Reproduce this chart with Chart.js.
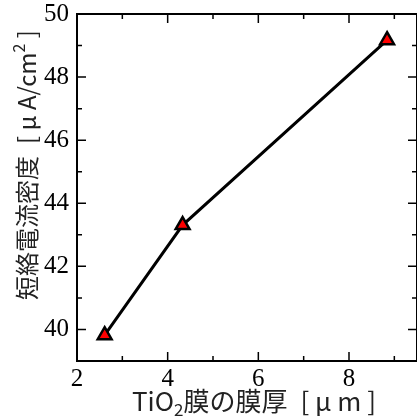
<!DOCTYPE html>
<html>
<head>
<meta charset="utf-8">
<script src="https://cdn.jsdelivr.net/npm/chart.js@4.4.0/dist/chart.umd.min.js"></script>
<style>
    html, body { margin: 0; padding: 0; overflow: hidden; background: #fff; }
    #chart { width: 417px; height: 416px; }
</style>
</head>
<body>
<canvas id="chart" width="417" height="416"></canvas>
<script>
const thickness = [2.61, 4.33, 8.84];
const currentDensity = [39.82, 43.31, 49.17];

const xTicks = [2, 4, 6, 8];
const xMinorTicks = [3, 5, 7, 9];
const yTicks = [40, 42, 44, 46, 48, 50];
const yMinorTicks = [41, 43, 45, 47, 49];

const xTitle = [{ text: 'TiO' }, { text: '2', sub: true }, { text: '膜の膜厚\u2002[ μ m ]' }];
const yTitle = [{ text: '短絡電流密度\u2002[ μ A/cm' }, { text: '2', sup: true }, { text: ' ]' }];

const titleFont = '"Noto Sans CJK JP", sans-serif';
const tickFont = { family: 'Liberation Serif', size: 25 };

function drawRich(ctx, parts, cx, cy, size) {
    const fontOf = p => `${(p.sub || p.sup) ? Math.round(size * 0.65) : size}px ${titleFont}`;
    const widths = parts.map(p => {
        ctx.font = fontOf(p);
        return ctx.measureText(p.text).width;
    });
    let x = cx - widths.reduce((a, b) => a + b, 0) / 2;
    parts.forEach((p, i) => {
        ctx.font = fontOf(p);
        let dy = 0;
        if (p.sub) dy = size * 0.32;
        if (p.sup) dy = -size * 0.35;
        ctx.fillText(p.text, x, cy + dy);
        x += widths[i];
    });
}

// frame with inward ticks on all four sides, plus the axis titles
const frameAndTitles = {
    id: 'frameAndTitles',
    beforeDatasetsDraw(chart) {
        const { ctx, chartArea: a, scales: { x, y } } = chart;
        ctx.save();
        ctx.strokeStyle = '#000';
        ctx.lineWidth = 2;
        ctx.strokeRect(a.left, a.top, a.right - a.left, a.bottom - a.top);

        ctx.lineWidth = 1.5;
        ctx.beginPath();
        const xMark = (v, len) => {
            const px = x.getPixelForValue(v);
            ctx.moveTo(px, a.bottom); ctx.lineTo(px, a.bottom - len);
            ctx.moveTo(px, a.top); ctx.lineTo(px, a.top + len);
        };
        const yMark = (v, len) => {
            const py = y.getPixelForValue(v);
            ctx.moveTo(a.left, py); ctx.lineTo(a.left + len, py);
            ctx.moveTo(a.right, py); ctx.lineTo(a.right - len, py);
        };
        xTicks.forEach(v => xMark(v, 9));
        xMinorTicks.forEach(v => xMark(v, 5));
        yTicks.forEach(v => yMark(v, 9));
        yMinorTicks.forEach(v => yMark(v, 5));
        ctx.stroke();
        ctx.restore();
    },
    afterDraw(chart) {
        const ctx = chart.ctx;
        ctx.save();
        ctx.fillStyle = '#222';
        ctx.textAlign = 'left';
        ctx.textBaseline = 'middle';
        drawRich(ctx, xTitle, 254, 401, 26);
        ctx.translate(27, 165);
        ctx.rotate(-Math.PI / 2);
        drawRich(ctx, yTitle, 0, 0, 24);
        ctx.restore();
    }
};

const noEdgePadding = s => {
    s.paddingTop = 0;
    s.paddingBottom = 0;
    s.paddingLeft = 0;
    s.paddingRight = 0;
};

new Chart(document.getElementById('chart'), {
    type: 'line',
    data: {
        datasets: [{
            data: thickness.map((t, i) => ({ x: t, y: currentDensity[i] })),
            borderColor: '#000',
            borderWidth: 3,
            tension: 0,
            pointStyle: 'triangle',
            pointRadius: 8,
            pointBackgroundColor: '#ff0000',
            pointBorderColor: '#000',
            pointBorderWidth: 2.5,
            clip: false
        }]
    },
    options: {
        responsive: false,
        animation: false,
        // the right frame edge sits just outside the picture
        layout: { autoPadding: false, padding: { top: 14, right: -6, left: 0, bottom: 0 } },
        plugins: {
            legend: { display: false },
            tooltip: { enabled: false }
        },
        scales: {
            x: {
                type: 'linear',
                min: 2,
                max: 9.5,
                grid: { display: false, drawTicks: false },
                border: { display: false },
                afterBuildTicks: s => { s.ticks = xTicks.map(v => ({ value: v })); },
                afterFit: s => { s.height = 55; noEdgePadding(s); },
                ticks: { font: tickFont, color: '#000', padding: 3, maxRotation: 0 }
            },
            y: {
                min: 39,
                max: 50,
                grid: { display: false, drawTicks: false },
                border: { display: false },
                afterBuildTicks: s => { s.ticks = yTicks.map(v => ({ value: v })); },
                afterFit: s => { s.width = 77; noEdgePadding(s); },
                ticks: { font: tickFont, color: '#000', padding: 8 }
            }
        }
    },
    plugins: [frameAndTitles]
});
</script>
</body>
</html>
